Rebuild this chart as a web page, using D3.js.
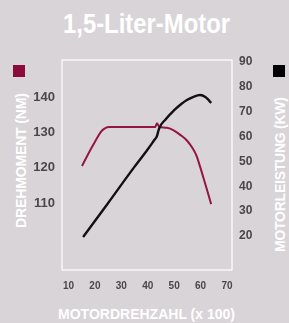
<!DOCTYPE html>
<html>
<head>
<meta charset="utf-8">
<script src="https://cdn.jsdelivr.net/npm/d3@7"></script>
<style>
  html, body { margin: 0; padding: 0; background: #d9d4d7; }
  svg { display: block; }
</style>
</head>
<body>
<svg id="chart"></svg>
<script>
// values
const title = '1,5-Liter-Motor';
const xTitle = 'MOTORDREHZAHL (x 100)';
const leftTitle = 'DREHMOMENT (NM)';
const rightTitle = 'MOTORLEISTUNG (KW)';

const xTicks = [10, 20, 30, 40, 50, 60, 70];
const torqueTicks = [110, 120, 130, 140];
const powerTicks = [20, 30, 40, 50, 60, 70, 80, 90];

// Drehmoment (Nm) over rpm x 100
const torqueRpm = [15.3, 20, 23, 24.3, 25.5, 30, 35, 40, 43, 43.7, 44.6, 47.5, 50, 52.5, 55, 57, 58.7, 60, 62, 64.2];
const torqueVal = [120.2, 126.8, 130.3, 131.0, 131.2, 131.2, 131.2, 131.2, 131.2, 132.3, 131.2, 131.0, 130.3, 129.0, 127.4, 125.4, 123.0, 120.0, 115.0, 109.4];

// Motorleistung (kW) over rpm x 100
const powerRpm = [15.7, 25, 35, 40, 42.8, 43.6, 44.4, 47, 50, 53, 55, 57.5, 60, 62, 64.2];
const powerVal = [19.2, 32.6, 47.2, 54.2, 58.4, 59.6, 62.6, 66.6, 70.0, 72.8, 74.3, 75.6, 76.3, 75.5, 73.1];

const width = 289;
const height = 323;

const svg = d3.select('#chart')
  .attr('width', width)
  .attr('height', height);

svg.append('rect')
  .attr('width', width)
  .attr('height', height)
  .attr('fill', '#d9d4d7');

// soft look of the printed tick numbers
svg.append('defs').append('filter')
  .attr('id', 'soft')
  .append('feGaussianBlur')
  .attr('stdDeviation', 0.5);

const frame = { left: 62, right: 232, top: 60, bottom: 270 };

const xScale = d3.scaleLinear().domain([10, 70]).range([68, 226.5]);
const yTorque = d3.scaleLinear().domain([110, 140]).range([202, 96]);
const yPower = d3.scaleLinear().domain([20, 90]).range([235, 61]);

const red = '#951542';
const font = '"Liberation Sans", Arial, sans-serif';
const narrow = '"Liberation Sans Narrow", "Arial Narrow", "Liberation Sans", sans-serif';

// title
svg.append('text')
  .attr('x', 146.5)
  .attr('y', 33)
  .attr('text-anchor', 'middle')
  .attr('font-family', narrow)
  .attr('font-weight', 'bold')
  .attr('font-size', 27)
  .attr('textLength', 167)
  .attr('lengthAdjust', 'spacingAndGlyphs')
  .attr('fill', '#ffffff')
  .text(title);

// plot frame
svg.append('rect')
  .attr('x', frame.left)
  .attr('y', frame.top)
  .attr('width', frame.right - frame.left)
  .attr('height', frame.bottom - frame.top)
  .attr('fill', 'none')
  .attr('stroke', '#ffffff')
  .attr('stroke-width', 1.2);

// axes (labels only)
function styleAxis(g, size) {
  g.select('.domain').remove();
  g.selectAll('.tick line').remove();
  g.selectAll('.tick text')
    .attr('font-family', font)
    .attr('font-weight', 'bold')
    .attr('font-size', size)
    .attr('fill', '#4a4749')
    .attr('filter', 'url(#soft)');
}

svg.append('g')
  .attr('transform', 'translate(0, 282)')
  .call(d3.axisBottom(xScale).tickValues(xTicks).tickSize(0).tickPadding(0))
  .call(g => styleAxis(g, 10));

svg.append('g')
  .attr('transform', 'translate(55, 0)')
  .call(d3.axisLeft(yTorque).tickValues(torqueTicks).tickSize(0).tickPadding(0))
  .call(g => styleAxis(g, 13));

svg.append('g')
  .attr('transform', 'translate(239, 0)')
  .call(d3.axisRight(yPower).tickValues(powerTicks).tickSize(0).tickPadding(0))
  .call(g => styleAxis(g, 12));

// axis titles, letter-spaced condensed caps
function axisTitle(transform, len, txt) {
  svg.append('text')
    .attr('transform', transform)
    .attr('text-anchor', 'middle')
    .attr('font-family', narrow)
    .attr('font-weight', 'bold')
    .attr('font-size', 14)
    .attr('textLength', len)
    .attr('lengthAdjust', 'spacing')
    .attr('fill', '#ffffff')
    .text(txt);
}

axisTitle('translate(146.5, 319)', 177, xTitle);
axisTitle('translate(25.5, 160.5) rotate(-90)', 135, leftTitle);
axisTitle('translate(285, 174.5) rotate(-90)', 155, rightTitle);

// legend squares
svg.append('rect')
  .attr('x', 13).attr('y', 65)
  .attr('width', 12).attr('height', 12)
  .attr('fill', '#8c0b3d');

svg.append('rect')
  .attr('x', 273).attr('y', 65)
  .attr('width', 12).attr('height', 12)
  .attr('fill', '#000000');

// curves
const torqueLine = d3.line()
  .x((d, i) => xScale(torqueRpm[i]))
  .y(d => yTorque(d))
  .curve(d3.curveMonotoneX);

const powerLine = d3.line()
  .x((d, i) => xScale(powerRpm[i]))
  .y(d => yPower(d))
  .curve(d3.curveMonotoneX);

svg.append('path')
  .datum(torqueVal)
  .attr('d', torqueLine)
  .attr('fill', 'none')
  .attr('stroke', red)
  .attr('stroke-width', 2)
  .attr('stroke-linejoin', 'round');

svg.append('path')
  .datum(powerVal)
  .attr('d', powerLine)
  .attr('fill', 'none')
  .attr('stroke', '#111111')
  .attr('stroke-width', 2.4)
  .attr('stroke-linejoin', 'round');
</script>
</body>
</html>
